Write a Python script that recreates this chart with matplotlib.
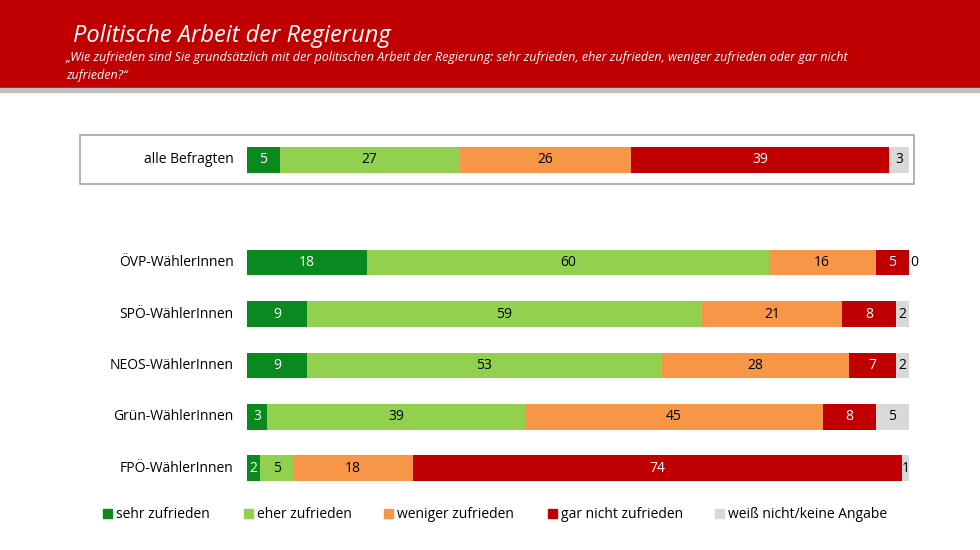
import matplotlib.pyplot as plt
from matplotlib.patches import Rectangle

groups = ["alle Befragten", "ÖVP-WählerInnen", "SPÖ-WählerInnen", "NEOS-WählerInnen", "Grün-WählerInnen", "FPÖ-WählerInnen"]
sehr = [5, 18, 9, 9, 3, 2]
eher = [27, 60, 59, 53, 39, 5]
weniger = [26, 16, 21, 28, 45, 18]
gar = [39, 5, 8, 7, 8, 74]
wn = [3, 0, 2, 2, 5, 1]
series_names = ["sehr zufrieden", "eher zufrieden", "weniger zufrieden", "gar nicht zufrieden", "weiß nicht/keine Angabe"]
colors = ["#0a8a1e", "#92d050", "#f79646", "#c00000", "#d9d9d9"]
text_colors = ["white", "black", "black", "white", "black"]
ypos = [0, 2, 3, 4, 5, 6]

plt.rcParams['font.family'] = ['Open Sans', 'DejaVu Sans']
W, H = 980, 550
fig = plt.figure(figsize=(9.8, 5.5), dpi=100)

# header
bg = fig.add_axes([0, 0, 1, 1]); bg.set_xlim(0, W); bg.set_ylim(H, 0); bg.axis('off')
bg.add_patch(Rectangle((0, 0), W, 88, color="#c00000"))
bg.add_patch(Rectangle((0, 88), W, 4, color="#bfbfbf"))
bg.add_patch(Rectangle((80, 135), 834, 49, fill=False, ec="#a6a6a6", lw=1.2))
fig.text(73/W, 1-36/H, "Politische Arbeit der Regierung", color="white", fontsize=17, style="italic", va="center")
fig.text(66/W, 1-58/H, "„Wie zufrieden sind Sie grundsätzlich mit der politischen Arbeit der Regierung: sehr zufrieden, eher zufrieden, weniger zufrieden oder gar nicht",
         color="white", fontsize=9, style="italic", va="center")
fig.text(66/W, 1-75/H, "zufrieden?“", color="white", fontsize=9, style="italic", va="center")

ax = fig.add_axes([247/W, 1-494/H, 662/W, 360/H])
ax.set_xlim(0, 100); ax.set_ylim(6.5, -0.5); ax.axis('off')
data = [sehr, eher, weniger, gar, wn]
for i, g in enumerate(groups):
    tot = sum(d[i] for d in data)
    left = 0
    for s in range(5):
        v = data[s][i]
        w = v * 100 / tot
        ax.barh(ypos[i], w, left=left, height=0.5, color=colors[s])
        cx = left + w / 2
        if v == 0:
            ax.text(left + 0.2, ypos[i], "0", ha="left", va="center", fontsize=10, color="black")
        else:
            ax.text(cx, ypos[i], str(v), ha="center", va="center", fontsize=10, color=text_colors[s])
        left += w
    ax.text(-2, ypos[i], g, ha="right", va="center", fontsize=10)

lx = [103, 244, 384, 548, 715]
for s in range(5):
    bg.add_patch(Rectangle((lx[s], 509), 9, 9, color=colors[s]))
    bg.text(lx[s] + 13, 514, series_names[s], va="center", fontsize=10)

fig.savefig("out.png", dpi=100)
